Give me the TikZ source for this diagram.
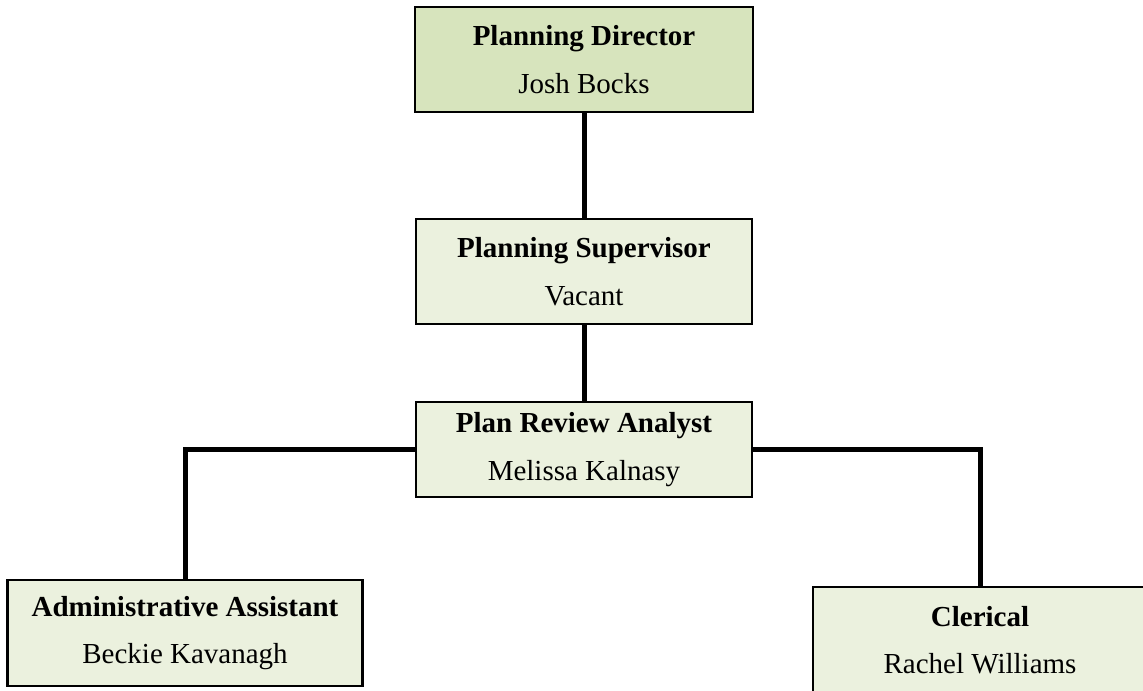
\documentclass[tikz,border=0pt]{standalone}
\usepackage{fontspec}
\setmainfont{Liberation Serif}
\usepackage{tikz}
\usetikzlibrary{positioning, calc}
\usepackage{xcolor}
\definecolor{orgdark}{HTML}{D7E4BD}
\definecolor{orglight}{HTML}{EBF1DE}
\definecolor{orgline}{HTML}{000000}

\tikzset{
  rolebox/.style={draw=orgline, line width=0.05cm, fill=orglight, align=center,
    font=\fontsize{16.5pt}{27pt}\selectfont, inner sep=0pt},
  topbox/.style={rolebox, fill=orgdark},
  link/.style={draw=orgline, line width=0.1cm}
}

\begin{document}
\begin{tikzpicture}[x=0.02cm, y=-0.02cm]
    \useasboundingbox (0,0) rectangle (1143,690);
    \node[topbox, minimum width=6.76cm, minimum height=2.1cm] (director) at (584,59.5)
      {\textbf{Planning Director}\\Josh Bocks};
    \node[rolebox, minimum width=6.72cm, minimum height=2.1cm] (supervisor) at (584,271.5)
      {\textbf{Planning Supervisor}\\Vacant};
    \node[rolebox, minimum width=6.72cm, minimum height=1.9cm] (analyst) at (584,449.5)
      {\textbf{Plan Review Analyst}\\Melissa Kalnasy};
    \node[rolebox, minimum width=7.1cm, minimum height=2.12cm] (admin) at (185,633)
      {\textbf{Administrative Assistant}\\Beckie Kavanagh};
    \node[rolebox, minimum width=6.68cm, minimum height=2.12cm] (clerical) at (980,640)
      {\textbf{Clerical}\\Rachel Williams};
    \draw[link] (director) -- (supervisor);
    \draw[link] (supervisor) -- (analyst);
    \draw[link] (analyst.west) -| (admin.north);
    \draw[link] (analyst.east) -| (clerical.north);
\end{tikzpicture}
\end{document}
